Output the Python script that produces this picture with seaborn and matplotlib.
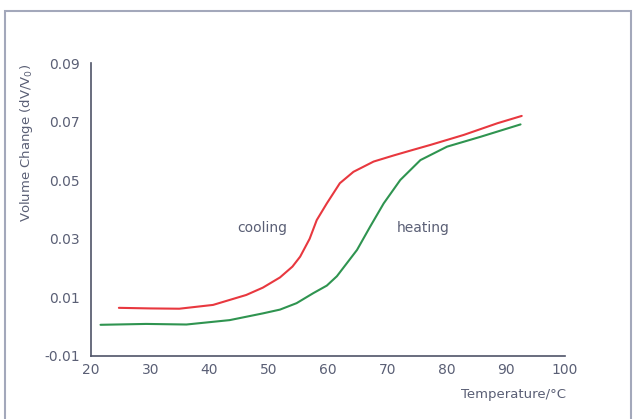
import numpy as np
import pandas as pd
import seaborn as sns
import matplotlib
import matplotlib.pyplot as plt
from matplotlib.patches import Rectangle

sns.set_style('white')
matplotlib.rcParams['font.family'] = ['DejaVu Sans']

# cooling curve (red)
cool_t = [24.7, 30.0, 34.9, 40.6, 46.2, 49.0, 51.9, 54.0, 55.3, 56.9, 58.1,
          59.8, 62.0, 64.3, 67.7, 71.1, 74.0, 77.3, 82.9, 88.6, 92.7]
cool_v = [0.0064, 0.0062, 0.0061, 0.0074, 0.0108, 0.0133, 0.0168, 0.0205,
          0.0239, 0.0300, 0.0364, 0.0421, 0.0490, 0.0529, 0.0564, 0.0585,
          0.0602, 0.0621, 0.0655, 0.0695, 0.0720]

# heating curve (green)
heat_t = [21.6, 29.3, 36.1, 43.4, 49.0, 51.9, 54.7, 57.5, 59.8, 61.5, 64.9,
          67.1, 69.4, 72.2, 75.6, 80.1, 85.8, 92.5]
heat_v = [0.0006, 0.0009, 0.0007, 0.0022, 0.0045, 0.0058, 0.0080, 0.0114,
          0.0140, 0.0172, 0.0262, 0.0341, 0.0421, 0.0501, 0.0569, 0.0615,
          0.0649, 0.0691]

x_ticks = [20, 30, 40, 50, 60, 70, 80, 90, 100]
y_ticks = [-0.01, 0.01, 0.03, 0.05, 0.07, 0.09]
y_labels = ['-0.01', '0.01', '0.03', '0.05', '0.07', '0.09']

axis_col = '#4f5468'
text_col = '#5a5f75'

fig = plt.figure(figsize=(6.42, 4.19), dpi=100)
ax = fig.add_axes([0.1418, 0.1508, 0.880 - 0.1418, 0.849 - 0.1508])

sns.lineplot(x=cool_t, y=cool_v, color='#e8383f', linewidth=1.5, ax=ax)
sns.lineplot(x=heat_t, y=heat_v, color='#2f9450', linewidth=1.5, ax=ax)

ax.set_xlim(20, 100)
ax.set_ylim(-0.01, 0.09)
ax.set_xticks(x_ticks)
ax.set_yticks(y_ticks)
ax.set_yticklabels(y_labels)
sns.despine(ax=ax)
for s in ['left', 'bottom']:
    ax.spines[s].set_color(axis_col)
    ax.spines[s].set_linewidth(1.2)
ax.tick_params(direction='in', length=4, width=1, color=axis_col,
               labelcolor=text_col, labelsize=10, pad=5)
ax.tick_params(axis='y', pad=8)

ax.text(48.9, 0.0337, 'cooling', color=text_col, fontsize=10,
        ha='center', va='center')
ax.text(76.1, 0.0337, 'heating', color=text_col, fontsize=10,
        ha='center', va='center')

fig.text(566 / 642, 1 - 394 / 419, 'Temperature/°C', color=text_col,
         fontsize=9.5, ha='right', va='center')
fig.text(27 / 642, 1 - 143 / 419, 'Volume Change (dV/V$_0$)', color=text_col,
         fontsize=9.5, rotation=90, ha='center', va='center')

fig.patches.append(Rectangle((5 / 642, -0.05), 626 / 642, 1 - 11 / 419 + 0.05,
                             transform=fig.transFigure, fill=False,
                             edgecolor='#a3a8bb', linewidth=1.5))

fig.savefig('out.png', dpi=100)
